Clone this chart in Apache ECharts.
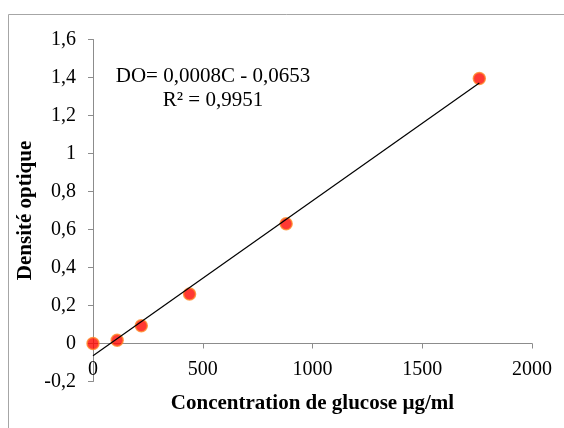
<!DOCTYPE html>
<html>
<head>
<meta charset="utf-8">
<script src="https://cdn.jsdelivr.net/npm/echarts@6/dist/echarts.min.js"></script>
<style>
  html, body { margin: 0; padding: 0; background: #fff; }
  #chart { width: 564px; height: 428px; }
</style>
</head>
<body>
<div id="chart"></div>
<script>
// Glucose standard curve: concentration (µg/ml) vs optical density
const concentrations = [0, 110, 220, 440, 880, 1760];
const densities = [0, 0.017, 0.093, 0.26, 0.63, 1.395];

const xTicks = { min: 0, max: 2000, step: 500 };
const yTicks = { min: -0.2, max: 1.6, step: 0.2 };

const equationText = 'DO= 0,0008C - 0,0653';
const r2Text = 'R² = 0,9951';
const xTitle = 'Concentration de glucose µg/ml';
const yTitle = 'Densité optique';

// least-squares linear trendline over the measured points
function linearFit(xs, ys) {
  const n = xs.length;
  const mx = xs.reduce((a, b) => a + b, 0) / n;
  const my = ys.reduce((a, b) => a + b, 0) / n;
  let sxy = 0, sxx = 0;
  for (let i = 0; i < n; i++) {
    sxy += (xs[i] - mx) * (ys[i] - my);
    sxx += (xs[i] - mx) * (xs[i] - mx);
  }
  const slope = sxy / sxx;
  return { slope, intercept: my - slope * mx };
}
const fit = linearFit(concentrations, densities);
const xFirst = Math.min(...concentrations);
const xLast = Math.max(...concentrations);
const trend = [
  [xFirst, fit.intercept + fit.slope * xFirst],
  [xLast, fit.intercept + fit.slope * xLast]
];

const points = concentrations.map((c, i) => [c, densities[i]]);

const FONT = '"Liberation Serif", "Times New Roman", serif';
const AXIS_GRAY = '#8c8c8c';

const W = 564, H = 428;
const grid = { left: 93, right: 32, top: 39.5, bottom: 46.5 };
// lift the horizontal axis so it crosses the vertical axis at zero
const plotH = H - grid.top - grid.bottom;
const zeroLift = plotH * (0 - yTicks.min) / (yTicks.max - yTicks.min);

function commaDecimal(v) {
  const r = Math.round(v * 10) / 10;
  if (Number.isInteger(r)) return String(r);
  return r.toFixed(1).replace('.', ',');
}

const chart = echarts.init(document.getElementById('chart'), null, { renderer: 'canvas' });
chart.setOption({
  animation: false,
  backgroundColor: '#fff',
  grid: Object.assign({ containLabel: false, outerBoundsMode: 'none' }, grid),
  xAxis: {
    type: 'value',
    position: 'bottom',
    offset: -zeroLift,
    min: xTicks.min, max: xTicks.max, interval: xTicks.step,
    splitLine: { show: false },
    axisLine: { show: true, onZero: false, lineStyle: { color: AXIS_GRAY, width: 1 } },
    axisTick: { show: true, length: 5, inside: false, lineStyle: { color: AXIS_GRAY } },
    axisLabel: {
      color: '#000', fontFamily: FONT, fontSize: 20, margin: 16,
      formatter: (v) => String(v)
    },
    name: xTitle,
    nameLocation: 'middle',
    nameGap: 50,
    nameTextStyle: { color: '#000', fontFamily: FONT, fontSize: 21, fontWeight: 'bold' }
  },
  yAxis: {
    type: 'value',
    min: yTicks.min, max: yTicks.max, interval: yTicks.step,
    splitLine: { show: false },
    axisLine: { show: true, onZero: false, lineStyle: { color: AXIS_GRAY, width: 1 } },
    axisTick: { show: true, length: 5, lineStyle: { color: AXIS_GRAY } },
    axisLabel: { color: '#000', fontFamily: FONT, fontSize: 20, margin: 17, formatter: commaDecimal },
    name: yTitle,
    nameLocation: 'middle',
    nameGap: 57,
    nameMoveOverlap: false,
    nameRotate: 90,
    nameTextStyle: { color: '#000', fontFamily: FONT, fontSize: 21, fontWeight: 'bold' }
  },
  series: [
    {
      type: 'scatter',
      data: points,
      symbol: 'circle',
      symbolSize: 12,
      itemStyle: { color: '#ff0800', borderColor: '#ff8a28', borderWidth: 1.5 },
      z: 2
    },
    {
      type: 'line',
      data: trend,
      showSymbol: false,
      symbol: 'none',
      lineStyle: { color: '#000', width: 1.2 },
      z: 3
    }
  ],
  graphic: [
    {
      type: 'rect',
      silent: true,
      shape: { x: 8.5, y: 14.5, width: 700, height: 600 },
      style: { fill: 'none', stroke: '#a6a6a6', lineWidth: 1 },
      z: -1
    },
    {
      type: 'text',
      silent: true,
      x: 213, y: 64,
      style: {
        text: equationText + '\n' + r2Text,
        fontFamily: FONT, fontSize: 21, lineHeight: 24,
        fill: '#000', align: 'center', verticalAlign: 'top'
      }
    }
  ]
});
</script>
</body>
</html>
